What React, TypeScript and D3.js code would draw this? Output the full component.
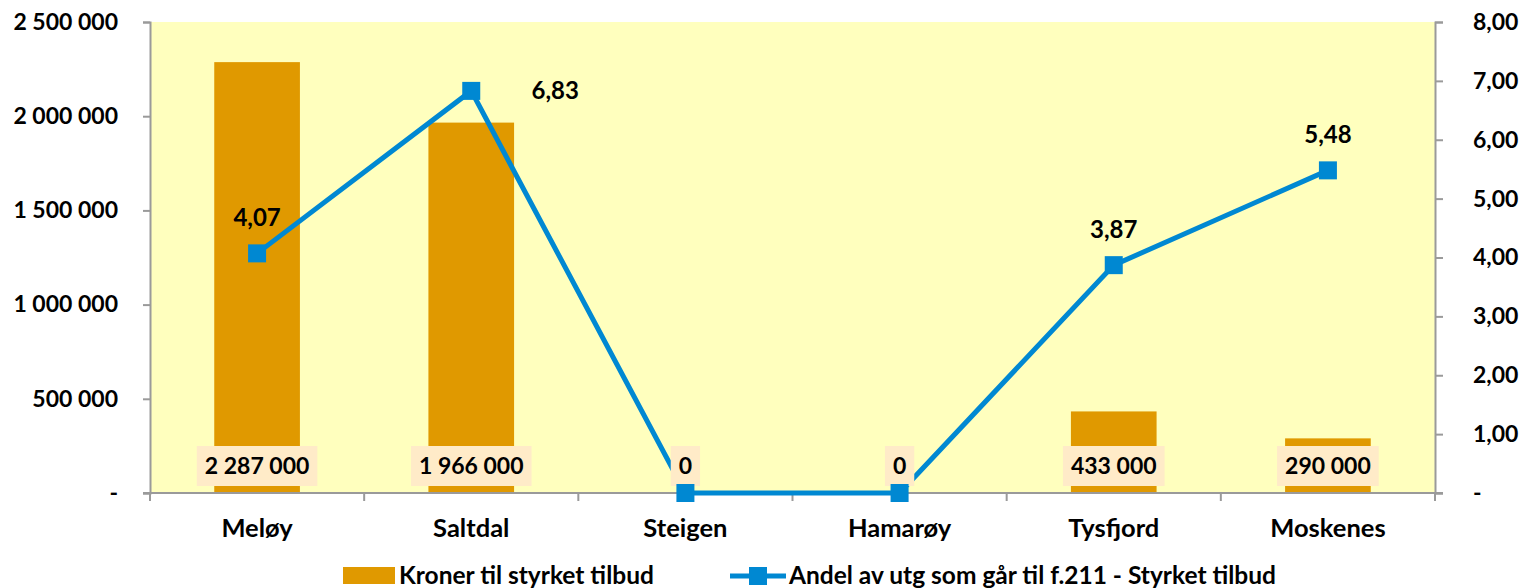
import React, { useEffect, useRef } from "react";
import * as d3 from "d3";

const kommuner = ["Meløy", "Saltdal", "Steigen", "Hamarøy", "Tysfjord", "Moskenes"];
const kroner = [2287000, 1966000, 0, 0, 433000, 290000];
const andel = [4.07, 6.83, 0, 0, 3.87, 5.48];
const kronerTicks = [0, 500000, 1000000, 1500000, 2000000, 2500000];
const andelTicks = [0, 1, 2, 3, 4, 5, 6, 7, 8];
const legendLabels = ["Kroner til styrket tilbud", "Andel av utg som går til f.211 - Styrket tilbud"];

const W = 1531;
const H = 588;
const FONT = "Lato, 'Open Sans', sans-serif";

const no = d3.formatLocale({ decimal: ",", thousands: " ", grouping: [3], currency: ["", " kr"] });
const fmtKr = (v: number) => (v === 0 ? "-" : no.format(",")(v));
const fmtPct = (v: number) => (v === 0 ? "-" : no.format(".2f")(v));

export default function App() {
  const ref = useRef<SVGSVGElement>(null);

  useEffect(() => {
    const svg = d3.select(ref.current);
    svg.selectAll("*").remove();

    const left = 150, right = 1435, top = 22, bottom = 493;

    const x = d3.scaleBand().domain(kommuner).range([left, right]);
    const yKr = d3.scaleLinear().domain([0, 2500000]).range([bottom, top]);
    const yPct = d3.scaleLinear().domain([0, 8]).range([bottom, top]);
    const cx = (d: string) => x(d)! + x.bandwidth() / 2;
    const barW = x.bandwidth() * 0.4;

    // plot area
    svg.append("rect")
      .attr("x", left).attr("y", top)
      .attr("width", right - left).attr("height", bottom - top)
      .attr("fill", "#ffffbe");

    // bars
    svg.append("g").selectAll("rect")
      .data(kommuner)
      .join("rect")
      .attr("x", (d) => cx(d) - barW / 2)
      .attr("width", barW)
      .attr("y", (d, i) => yKr(kroner[i]))
      .attr("height", (d, i) => bottom - yKr(kroner[i]))
      .attr("fill", "#e09900");

    // left axis
    const gl = svg.append("g")
      .attr("transform", `translate(${left},0)`)
      .call(d3.axisLeft(yKr).tickValues(kronerTicks).tickFormat((v) => fmtKr(+v)).tickSize(7).tickPadding(25));
    // right axis
    const gr = svg.append("g")
      .attr("transform", `translate(${right},0)`)
      .call(d3.axisRight(yPct).tickValues(andelTicks).tickFormat((v) => fmtPct(+v)).tickSize(8).tickPadding(30));
    [gl, gr].forEach((g) => {
      g.select(".domain").attr("stroke", "#9a9a9a").attr("stroke-width", 2);
      g.selectAll(".tick line").attr("stroke", "#9a9a9a").attr("stroke-width", 2);
      g.selectAll(".tick text")
        .attr("fill", "#000")
        .attr("font-family", FONT)
        .attr("font-weight", "bold")
        .attr("font-size", 23);
    });

    // bottom axis
    const gb = svg.append("g");
    gb.append("line")
      .attr("x1", left - 7).attr("x2", right + 8)
      .attr("y1", bottom).attr("y2", bottom)
      .attr("stroke", "#9a9a9a").attr("stroke-width", 2);
    const bounds = kommuner.map((d) => x(d)!).concat([right]);
    gb.selectAll("line.tk")
      .data(bounds)
      .join("line")
      .attr("class", "tk")
      .attr("x1", (d) => d).attr("x2", (d) => d)
      .attr("y1", bottom).attr("y2", bottom + 8)
      .attr("stroke", "#9a9a9a").attr("stroke-width", 2);
    gb.selectAll("text")
      .data(kommuner)
      .join("text")
      .attr("x", cx)
      .attr("y", 537)
      .attr("text-anchor", "middle")
      .attr("font-family", FONT)
      .attr("font-weight", "bold")
      .attr("font-size", 25.5)
      .text((d) => d);

    // line series
    const line = d3.line<number>()
      .x((d, i) => cx(kommuner[i]))
      .y((d) => yPct(d));
    svg.append("path")
      .datum(andel)
      .attr("fill", "none")
      .attr("stroke", "#0088d2")
      .attr("stroke-width", 5)
      .attr("d", line);

    // bar value labels
    const lab = svg.append("g").selectAll("g")
      .data(kommuner)
      .join("g")
      .attr("transform", (d) => `translate(${cx(d)},466)`);
    lab.append("text")
      .attr("text-anchor", "middle")
      .attr("dy", "0.36em")
      .attr("font-family", FONT)
      .attr("font-weight", "bold")
      .attr("font-size", 23)
      .text((d, i) => no.format(",")(kroner[i]));
    lab.each(function () {
      const g = d3.select(this);
      const bb = (g.select("text").node() as SVGTextElement).getBBox();
      g.insert("rect", "text")
        .attr("x", bb.x - 8).attr("width", bb.width + 16)
        .attr("y", -20).attr("height", 40)
        .attr("fill", "#ffebc8");
    });

    // markers
    svg.append("g").selectAll("rect")
      .data(andel)
      .join("rect")
      .attr("x", (d, i) => cx(kommuner[i]) - 9)
      .attr("y", (d) => yPct(d) - 9)
      .attr("width", 18).attr("height", 18)
      .attr("fill", "#0088d2");

    // line value labels
    svg.append("g").selectAll("text")
      .data(andel)
      .join("text")
      .filter((d) => d > 0)
      .attr("x", (d, i) => cx(kommuner[andel.indexOf(d)]) + (andel.indexOf(d) === 1 ? 84 : 0))
      .attr("y", (d) => yPct(d) - (andel.indexOf(d) === 1 ? -8 : 27))
      .attr("text-anchor", "middle")
      .attr("font-family", FONT)
      .attr("font-weight", "bold")
      .attr("font-size", 24)
      .text((d) => fmtPct(d));

    // legend
    const lg = svg.append("g").attr("font-family", FONT).attr("font-weight", "bold").attr("font-size", 24.5);
    lg.append("rect").attr("x", 343).attr("y", 567).attr("width", 52).attr("height", 17).attr("fill", "#e09900");
    lg.append("text").attr("x", 399).attr("y", 584).text(legendLabels[0]);
    lg.append("line").attr("x1", 730).attr("x2", 786).attr("y1", 576).attr("y2", 576)
      .attr("stroke", "#0088d2").attr("stroke-width", 5);
    lg.append("rect").attr("x", 749).attr("y", 567).attr("width", 18).attr("height", 18).attr("fill", "#0088d2");
    lg.append("text").attr("x", 789).attr("y", 584).text(legendLabels[1]);
  }, []);

  return (
    <svg
      ref={ref}
      width={W}
      height={H}
      style={{ position: "absolute", left: 0, top: 0, background: "#fff" }}
    />
  );
}
